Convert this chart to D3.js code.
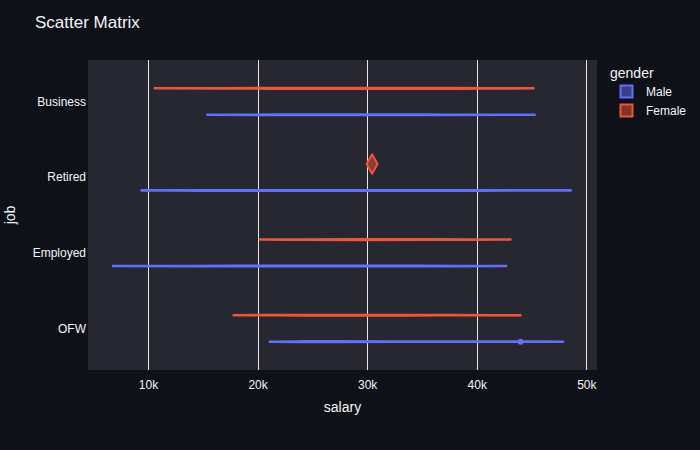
<!DOCTYPE html>
<html><head><meta charset="utf-8">
<script src="https://cdn.jsdelivr.net/npm/d3@7"></script>
<style>body{margin:0;background:#0e1117}svg{display:block}text{font-family:"Liberation Sans",Arial,sans-serif}</style>
</head><body><svg id="c" width="700" height="450"></svg>
<script>
// ---- data ----
const jobs = ["OFW", "Employed", "Retired", "Business"];
const genders = ["Male", "Female"];
const xTicks = [10000, 20000, 30000, 40000, 50000];
// violin density profiles: [salary, relative density]
const maleBusiness   = [[15400,0.4],[20000,0.6],[24000,0.8],[33000,0.8],[37000,0.6],[45300,0.4]];
const femaleBusiness = [[10600,0.4],[17000,0.7],[25000,0.9],[36500,0.9],[41000,0.6],[45200,0.4]];
const maleRetired    = [[9400,0.5],[15000,0.7],[28000,0.8],[40000,0.7],[48600,0.5]];
const femaleRetired  = [[29950,0.0],[30450,15.0],[30950,0.0]];
const maleEmployed   = [[6800,0.5],[14000,0.6],[23000,0.7],[31000,0.8],[38000,0.6],[42700,0.4]];
const femaleEmployed = [[20200,0.4],[23000,0.6],[29000,0.9],[36000,0.8],[43100,0.4]];
const maleOFW        = [[21100,0.4],[24000,0.8],[27000,0.9],[33000,0.7],[38000,0.5],[44000,0.5],[47900,0.4]];
const femaleOFW      = [[17800,0.4],[22000,0.6],[26000,0.8],[34000,0.8],[38000,0.5],[44000,0.4]];
const outliers = [{job:"OFW", gender:"Male", salary:44000}];

const violins = [
  {job:"Business", gender:"Male", profile:maleBusiness},
  {job:"Business", gender:"Female", profile:femaleBusiness},
  {job:"Retired", gender:"Male", profile:maleRetired},
  {job:"Retired", gender:"Female", profile:femaleRetired},
  {job:"Employed", gender:"Male", profile:maleEmployed},
  {job:"Employed", gender:"Female", profile:femaleEmployed},
  {job:"OFW", gender:"Male", profile:maleOFW},
  {job:"OFW", gender:"Female", profile:femaleOFW}
];

// ---- layout ----
const svg = d3.select("#c");
const W = 700, H = 450;
const m = {l:88, r:103, t:60, b:80};
const pw = W - m.l - m.r, ph = H - m.t - m.b;
const colors = {Male:"#636efa", Female:"#ef553b"};

svg.append("rect").attr("width",W).attr("height",H).attr("fill","#0e1117");
const g = svg.append("g").attr("transform",`translate(${m.l},${m.t})`);
g.append("rect").attr("width",pw).attr("height",ph).attr("fill","#262730");

const x = d3.scaleLinear().domain([4530, 50970]).range([0, pw]);
const yIdx = d3.scaleLinear().domain([-0.55, 3.55]).range([ph, 0]);
const yCat = j => yIdx(jobs.indexOf(j));
const off = d3.scaleOrdinal().domain(genders).range([-0.175, 0.175]);
const yPos = (j, gd) => yIdx(jobs.indexOf(j) + off(gd));
const wScale = d3.scaleLinear().domain([0, 1]).range([0, 0.65]);

// grid
g.append("g").selectAll("line").data(xTicks).join("line")
  .attr("x1", d => Math.round(x(d)) + 0.5).attr("x2", d => Math.round(x(d)) + 0.5)
  .attr("y1", 0).attr("y2", ph).attr("stroke", "#e6e6e6").attr("stroke-width", 1);

// x axis
const xAxis = d3.axisBottom(x).tickValues(xTicks).tickFormat(d => (d/1000) + "k").tickSize(0).tickPadding(10);
const xa = g.append("g").attr("transform",`translate(0,${ph})`).call(xAxis);
xa.select(".domain").remove();
xa.selectAll("text").attr("fill","#f2f5fa").attr("font-size",12);

// y axis
const ya = g.append("g");
ya.selectAll("text").data(jobs).join("text")
  .attr("x", -2).attr("y", d => yCat(d)).attr("dy","0.35em")
  .attr("text-anchor","end").attr("fill","#f2f5fa").attr("font-size",12).text(d => d);

// violins
violins.forEach(v => {
  const cy = yPos(v.job, v.gender);
  const pts = v.profile;
  const top = pts.map(p => [x(p[0]), cy - wScale(p[1])]);
  const bot = pts.map(p => [x(p[0]), cy + wScale(p[1])]).reverse();
  const line = d3.line().curve(v.profile.length === 3 ? d3.curveLinear : d3.curveMonotoneX);
  const dStr = line(top) + "L" + line(bot).slice(1) + "Z";
  g.append("path").attr("d", dStr)
    .attr("fill", colors[v.gender]).attr("fill-opacity", 0.5)
    .attr("stroke", colors[v.gender]).attr("stroke-width", 2).attr("stroke-linejoin","round");
});

// outlier points
g.selectAll(".pt").data(outliers).join("circle")
  .attr("cx", d => x(d.salary)).attr("cy", d => yPos(d.job, d.gender))
  .attr("r", 3).attr("fill", d => colors[d.gender]);

// titles
svg.append("text").attr("x", 35).attr("y", 28).attr("fill","#f2f5fa").attr("font-size",17).text("Scatter Matrix");
svg.append("text").attr("x", m.l + pw/2).attr("y", 412).attr("text-anchor","middle")
  .attr("fill","#f2f5fa").attr("font-size",14).text("salary");
svg.append("text").attr("transform",`translate(15,${m.t + ph/2}) rotate(-90)`).attr("text-anchor","middle")
  .attr("fill","#f2f5fa").attr("font-size",14).text("job");

// legend
const lg = svg.append("g").attr("transform","translate(610,0)");
lg.append("text").attr("x",0).attr("y",78).attr("fill","#f2f5fa").attr("font-size",14).text("gender");
genders.forEach((gd, i) => {
  const yy = 92 + i*19;
  lg.append("rect").attr("x",10.5).attr("y",yy-6.5).attr("width",12).attr("height",12)
    .attr("fill",colors[gd]).attr("fill-opacity",0.5).attr("stroke",colors[gd]).attr("stroke-width",2);
  lg.append("text").attr("x",36).attr("y",yy).attr("dy","0.35em").attr("fill","#f2f5fa").attr("font-size",12).text(gd);
});
</script></body></html>
